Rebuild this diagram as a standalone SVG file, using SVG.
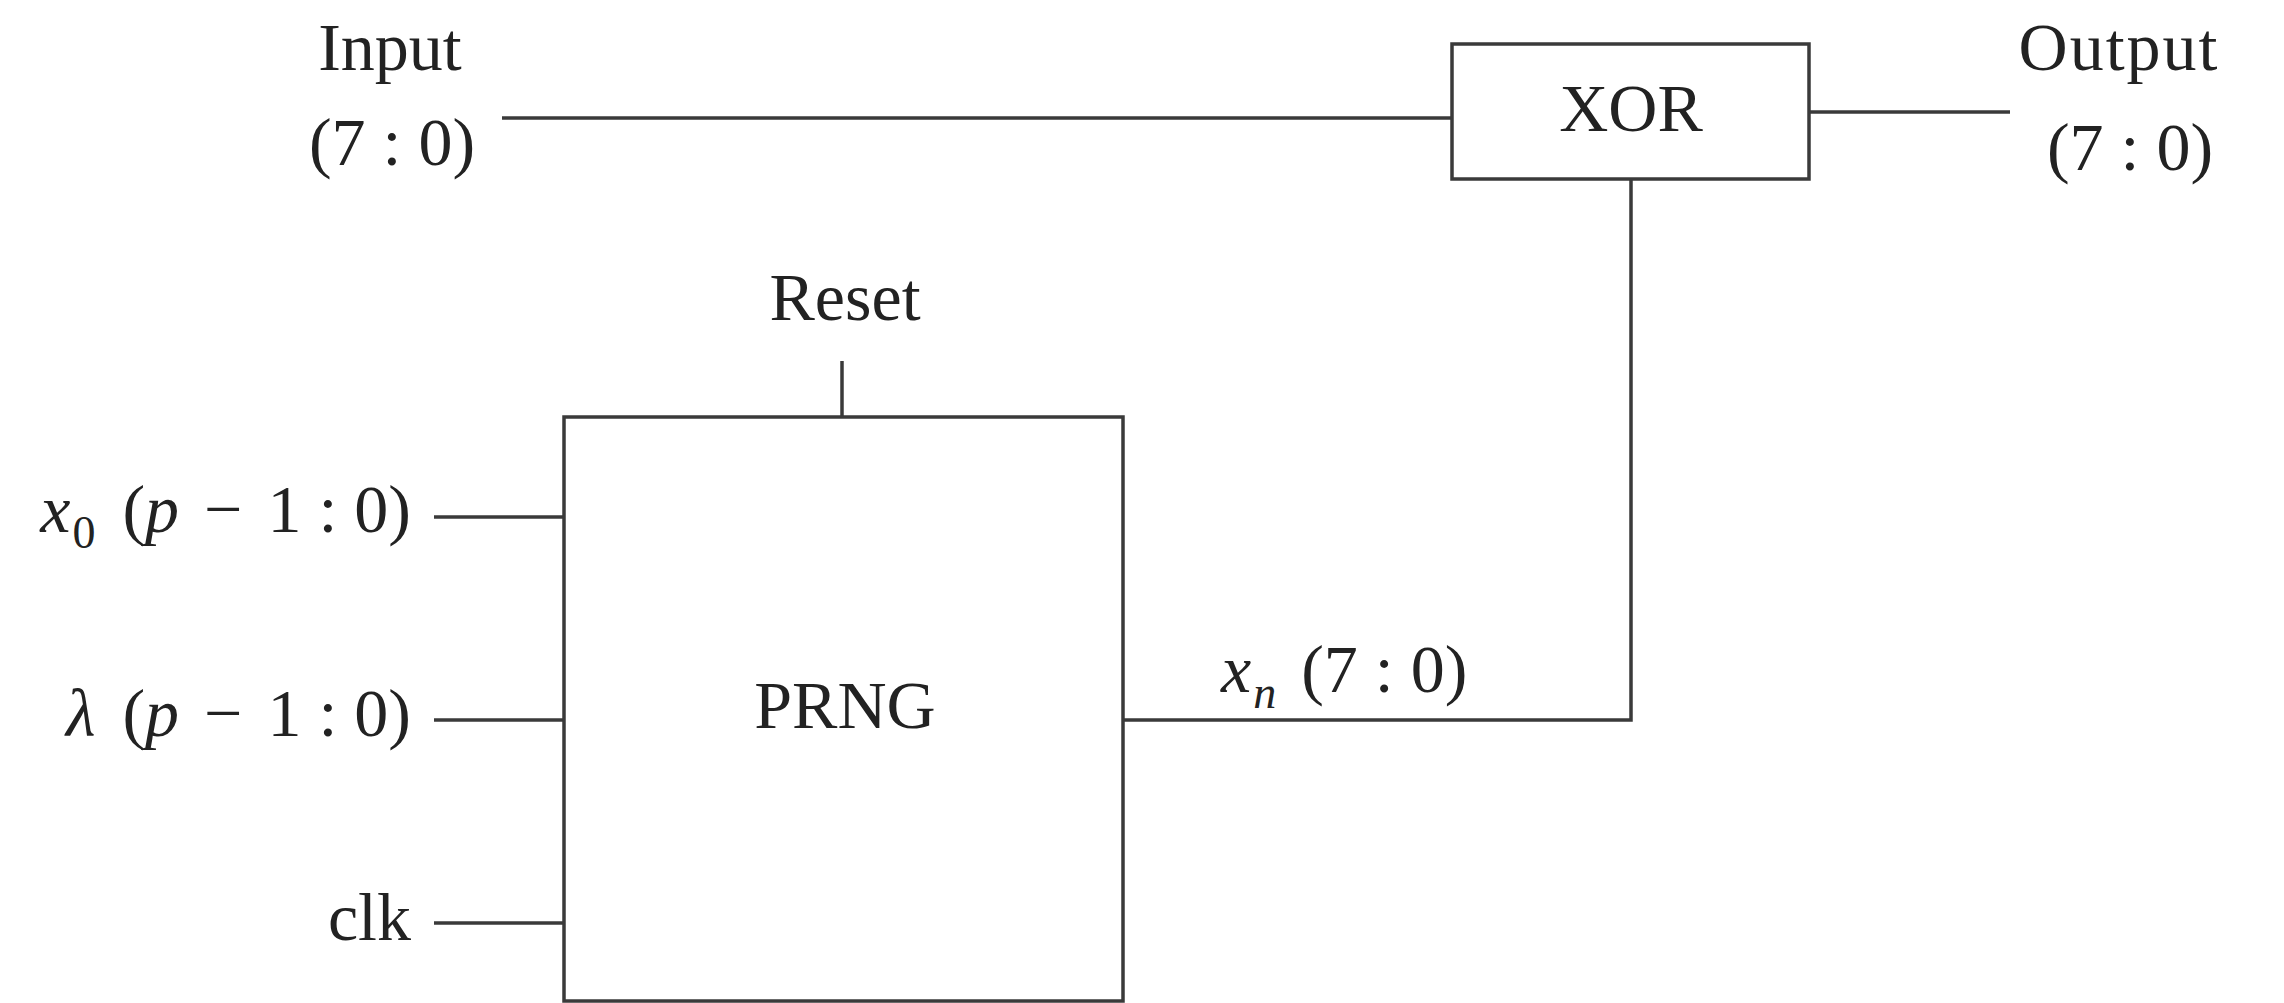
<svg xmlns="http://www.w3.org/2000/svg" width="2284" height="1003" viewBox="0 0 2284 1003">
<style>
.ln{stroke:#3a3a3a;stroke-width:3.5;fill:none}
.box{stroke:#3a3a3a;stroke-width:3.5;fill:#fff}
.t{font-family:"Liberation Serif","Times New Roman",serif;font-size:68px;fill:#222}
.i{font-style:italic}
.s{font-size:46px}
</style>
<rect width="2284" height="1003" fill="#fff"/>
<g id="connectors">
<line class="ln" x1="502" y1="118" x2="1452" y2="118"/>
<line class="ln" x1="1809" y1="112" x2="2010" y2="112"/>
<polyline class="ln" points="1123,720 1631,720 1631,179"/>
<line class="ln" x1="842" y1="361" x2="842" y2="417"/>
<line class="ln" x1="434" y1="517" x2="564" y2="517"/>
<line class="ln" x1="434" y1="720" x2="564" y2="720"/>
<line class="ln" x1="434" y1="923" x2="564" y2="923"/>
</g>
<g id="xor">
<rect class="box" x="1452" y="44" width="357" height="135"/>
<text class="t" x="1631" y="131" text-anchor="middle">XOR</text>
</g>
<g id="prng">
<rect class="box" x="564" y="417" width="559" height="584"/>
<text class="t" x="845" y="728" text-anchor="middle">PRNG</text>
</g>
<g id="input">
<text class="t" x="390" y="70" text-anchor="middle">Input</text>
<text class="t" x="392" y="165" text-anchor="middle">(7 : 0)</text>
</g>
<g id="output">
<text class="t" x="2119" y="70" text-anchor="middle" letter-spacing="2">Output</text>
<text class="t" x="2130" y="170" text-anchor="middle">(7 : 0)</text>
</g>
<g id="reset">
<text class="t" x="845" y="320" text-anchor="middle">Reset</text>
</g>
<g id="x0">
<text class="t" x="411" y="532" text-anchor="end"><tspan class="i">x</tspan><tspan class="s" dx="2" dy="16">0</tspan><tspan dx="10" dy="-16"> (</tspan><tspan class="i">p</tspan><tspan dx="8"> − </tspan><tspan dx="8">1 : 0)</tspan></text>
</g>
<g id="lambda">
<text class="t" x="411" y="736" text-anchor="end"><tspan class="i">λ</tspan><tspan dx="10"> (</tspan><tspan class="i">p</tspan><tspan dx="8"> − </tspan><tspan dx="8">1 : 0)</tspan></text>
</g>
<g id="clk">
<text class="t" x="411" y="940" text-anchor="end">clk</text>
</g>
<g id="xn">
<text class="t" x="1221" y="692"><tspan class="i">x</tspan><tspan class="s i" dx="2" dy="16">n</tspan><tspan dx="8" dy="-16"> (7 : 0)</tspan></text>
</g>
</svg>
